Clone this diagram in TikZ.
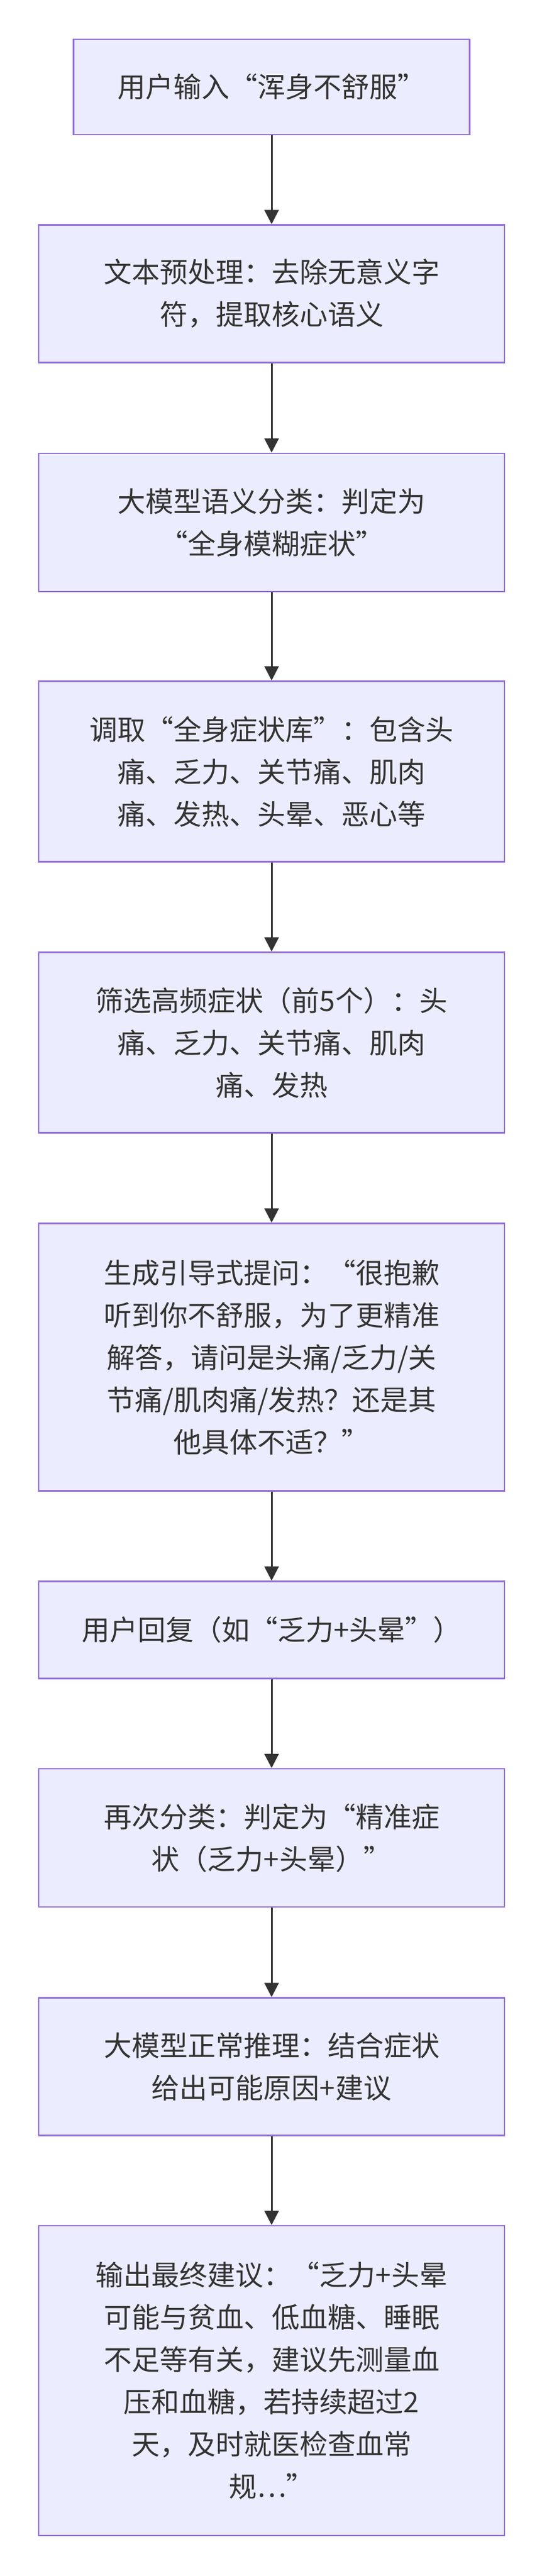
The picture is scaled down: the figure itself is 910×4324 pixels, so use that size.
\documentclass[tikz,border=0pt]{standalone}
\usepackage{fontspec}
\setmainfont{Noto Sans CJK SC}
\usetikzlibrary{arrows.meta}
\definecolor{boxfill}{HTML}{ECECFF}
\definecolor{boxline}{HTML}{9370DB}
\definecolor{ink}{HTML}{333333}
\begin{document}
\begin{tikzpicture}[x=1pt, y=-1pt,
    stepbox/.style={draw=boxline, fill=boxfill, line width=2.5pt, minimum width=782pt,
        align=center, text=ink, font=\fontsize{47}{71}\selectfont, inner sep=0pt},
    flow/.style={draw=ink, line width=3pt, -{Triangle[length=24pt, width=24pt]}}]
    \useasboundingbox (0, 0) rectangle (910, 4324);
    \node[stepbox, minimum width=665pt, minimum height=160pt] (input) at (456, 146) {用户输入“浑身不舒服”};
    \node[stepbox, minimum height=231pt] (prep) at (456, 493) {文本预处理：去除无意义字\\符，提取核心语义};
    \node[stepbox, minimum height=232pt] (cls) at (456, 877) {大模型语义分类：判定为\\“全身模糊症状”};
    \node[stepbox, minimum height=303pt] (lib) at (456, 1295) {调取“全身症状库”：包含头\\痛、乏力、关节痛、肌肉\\痛、发热、头晕、恶心等};
    \node[stepbox, minimum height=303pt] (top) at (456, 1750) {筛选高频症状（前5个）：头\\痛、乏力、关节痛、肌肉\\痛、发热};
    \node[stepbox, minimum height=449pt] (ask) at (456, 2278) {生成引导式提问：“很抱歉\\听到你不舒服，为了更精准\\解答，请问是头痛/乏力/关\\节痛/肌肉痛/发热？还是其\\他具体不适？”};
    \node[stepbox, minimum height=163pt] (reply) at (456, 2736) {用户回复（如“乏力+头晕”）};
    \node[stepbox, minimum height=232pt] (recls) at (456, 3085) {再次分类：判定为“精准症\\状（乏力+头晕）”};
    \node[stepbox, minimum height=231pt] (infer) at (456, 3469) {大模型正常推理：结合症状\\给出可能原因+建议};
    \node[stepbox, minimum height=520pt] (out) at (456, 3996) {输出最终建议：“乏力+头晕\\可能与贫血、低血糖、睡眠\\不足等有关，建议先测量血\\压和血糖，若持续超过2\\天，及时就医检查血常\\规…”};
    \foreach \a/\b in {input/prep, prep/cls, cls/lib, lib/top, top/ask, ask/reply, reply/recls, recls/infer, infer/out}
        \draw[flow] (\a.south) -- (\b.north);
\end{tikzpicture}
\end{document}
